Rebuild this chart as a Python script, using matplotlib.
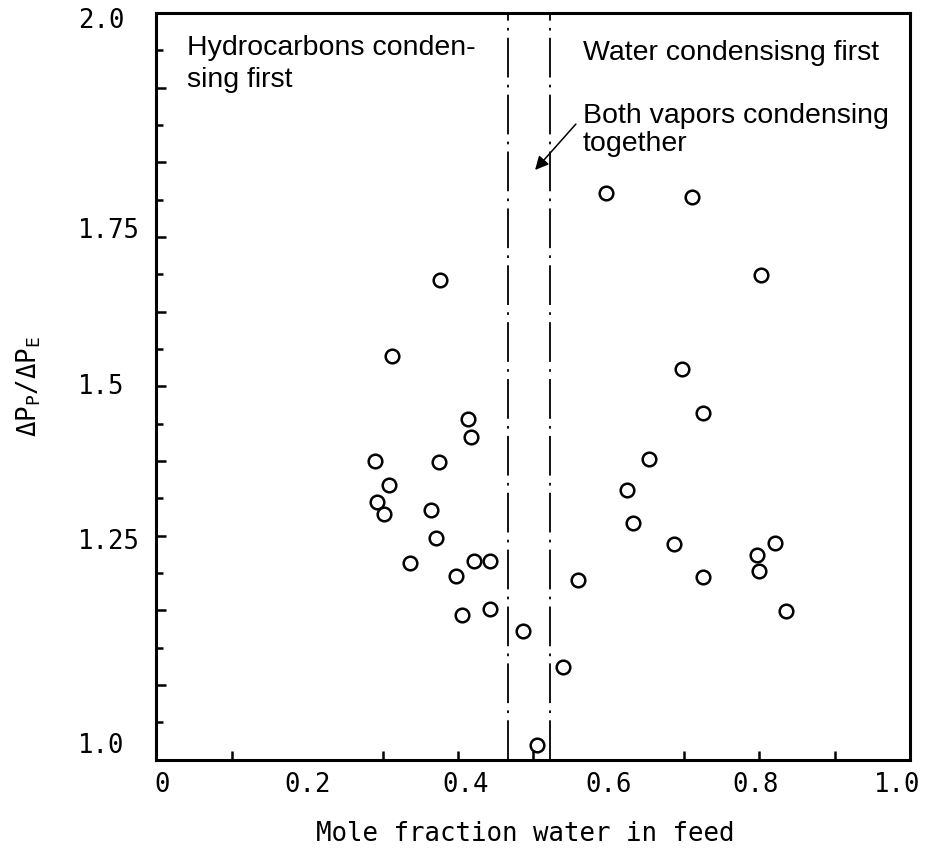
import matplotlib.pyplot as plt
import numpy as np

# mole fraction water in feed vs pressure drop ratio dP_P / dP_E
mole_frac = [0.376, 0.312, 0.414, 0.417, 0.290, 0.375, 0.308, 0.293, 0.302,
             0.364, 0.371, 0.336, 0.421, 0.442, 0.398, 0.406, 0.443,
             0.487, 0.539, 0.505,
             0.597, 0.710, 0.802, 0.698, 0.725, 0.654, 0.624, 0.632,
             0.687, 0.559, 0.725, 0.797, 0.799, 0.821, 0.836]
dp_ratio = [1.643, 1.541, 1.456, 1.432, 1.400, 1.399, 1.368, 1.345, 1.329,
            1.334, 1.297, 1.263, 1.266, 1.266, 1.246, 1.194, 1.201,
            1.172, 1.124, 1.019,
            1.759, 1.754, 1.649, 1.523, 1.464, 1.402, 1.361, 1.317,
            1.289, 1.241, 1.244, 1.274, 1.253, 1.290, 1.199]

# region where both vapors condense together
both_lo = 0.466
both_hi = 0.522

x_labels = ['0', '0.2', '0.4', '0.6', '0.8', '1.0']
y_labels = ['1.0', '1.25', '1.5', '1.75', '2.0']
# where the labels sit in the original figure
x_label_pos = [0.007, 0.2, 0.41, 0.6, 0.795, 0.983]
y_label_pos = [1.022, 1.295, 1.503, 1.712, 1.993]

plt.rcParams['mathtext.fontset'] = 'custom'
plt.rcParams['mathtext.rm'] = 'DejaVu Sans Mono'

fig = plt.figure(figsize=(9.27, 8.51), dpi=100)
ax = fig.add_axes([0.1688, 0.1075, 0.8129, 0.8772])

ax.plot(mole_frac, dp_ratio, 'o', ls='none', mfc='white', mec='black', ms=9.8, mew=1.8)
for xb in [both_lo, both_hi]:
    ax.axvline(xb, color='black', lw=1.3, ls=(0, (22, 4, 1.5, 4)))

ax.set_xlim(0, 1)
ax.set_ylim(1, 2)
for s in ax.spines.values():
    s.set_linewidth(2.2)

mono = 'DejaVu Sans Mono'
ax.set_xticks(x_label_pos, x_labels, family=mono, fontsize=18.5)
ax.set_yticks(y_label_pos, y_labels, family=mono, fontsize=18.5, ha='left')
ax.tick_params(which='major', length=0)
ax.tick_params(axis='x', which='major', pad=9)
ax.tick_params(axis='y', which='major', pad=56.5)

ax.set_xticks(np.arange(1, 10) / 10, minor=True)
ax.set_yticks(np.arange(1, 20) / 20 + 1, minor=True)
ax.tick_params(which='minor', direction='in', width=1.8, length=6.5)
yminor = ax.yaxis.get_minor_ticks()
for i, t in enumerate(yminor):
    if i % 2 == 1:
        t.tick1line.set_markersize(7.5)
    else:
        t.tick1line.set_markersize(5)

ax.set_xlabel('Mole fraction water in feed', family=mono, fontsize=18.5)
ax.xaxis.set_label_coords(0.489, -0.083)
ax.set_ylabel('ΔP$_\\mathrm{P}$/ΔP$_\\mathrm{E}$', family=mono, fontsize=18.5)
ax.yaxis.set_label_coords(-0.151, 0.5)

sans = 'Liberation Sans'
ax.text(0.040, 0.971, 'Hydrocarbons conden-\nsing first', transform=ax.transAxes,
        ha='left', va='top', fontsize=20.5, family=sans, linespacing=1.3)
ax.text(0.566, 0.964, 'Water condensisng first', transform=ax.transAxes,
        ha='left', va='top', fontsize=20.5, family=sans)
ax.text(0.566, 0.879, 'Both vapors condensing\ntogether', transform=ax.transAxes,
        ha='left', va='top', fontsize=20.5, family=sans, linespacing=1.1)
ax.annotate('', xy=(0.500, 1.787), xytext=(0.559, 1.854),
            arrowprops=dict(arrowstyle='-|>', color='black', lw=1.1, mutation_scale=20))

fig.savefig('out.png', dpi=100)
